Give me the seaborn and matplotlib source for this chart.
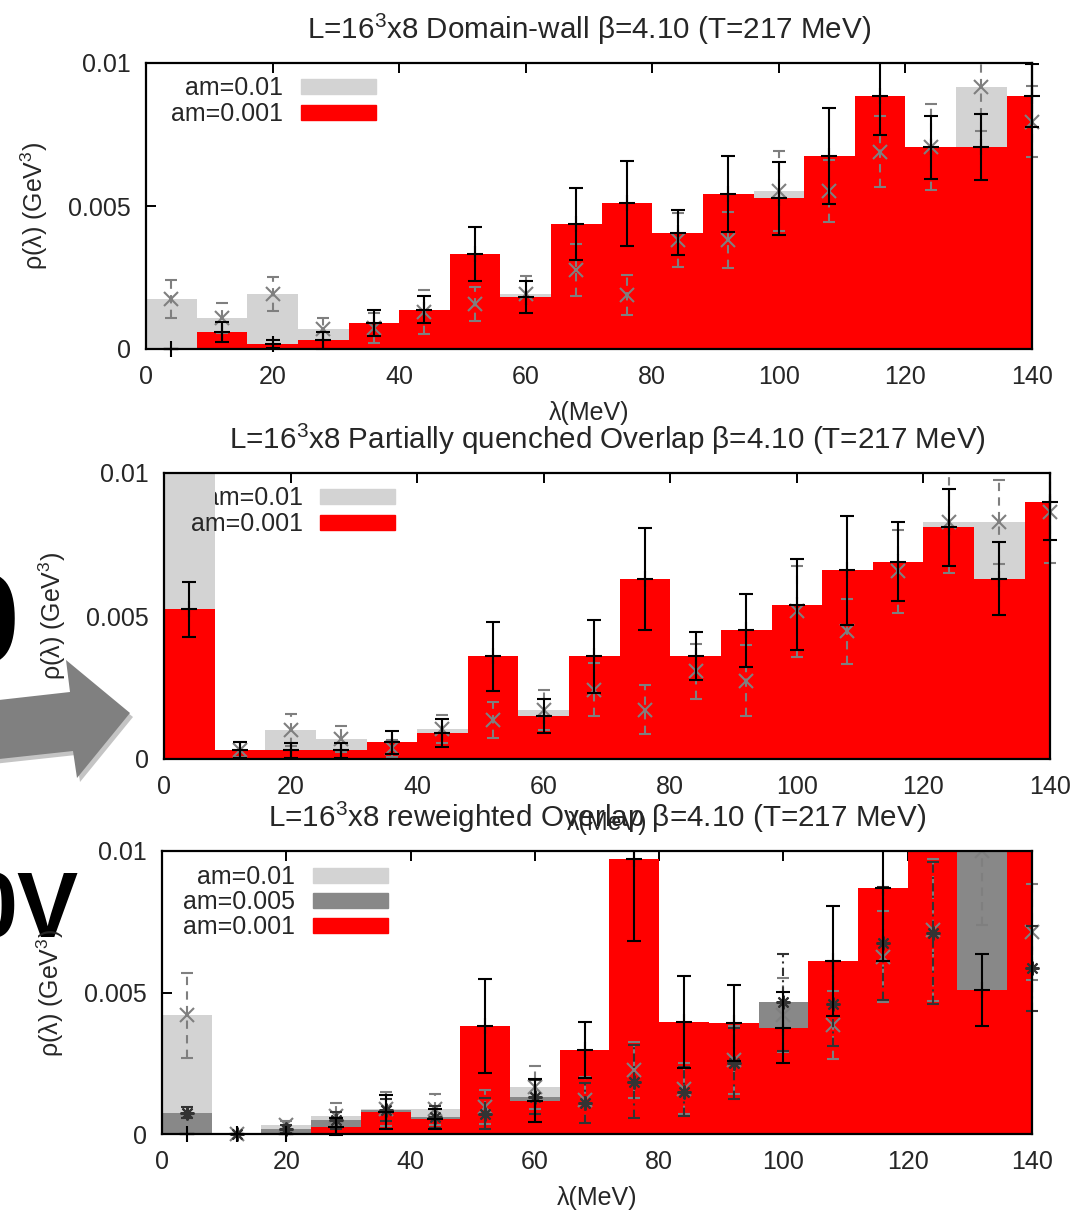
import numpy as np
import pandas as pd
import matplotlib
matplotlib.use("Agg")
import matplotlib.pyplot as plt
import seaborn as sns
from matplotlib.patches import Patch, Polygon
from matplotlib.legend import Legend
from matplotlib.transforms import Bbox, TransformedBbox

# ---------------- data ----------------
bin_centers = np.arange(4, 141, 8)          # MeV
bin_width = 8
bin_range = (0, 144)
x_ticks = [0, 20, 40, 60, 80, 100, 120, 140]
y_ticks = [0, 0.005, 0.01]
y_ticklabels = ["0", "0.005", "0.01"]

titles = [r"L=16$^3$x8 Domain-wall β=4.10 (T=217 MeV)",
          r"L=16$^3$x8 Partially quenched Overlap β=4.10 (T=217 MeV)",
          r"L=16$^3$x8 reweighted Overlap β=4.10 (T=217 MeV)"]
x_label = "λ(MeV)"
y_label = r"ρ(λ) (GeV$^3$)"

# Panel 1 : Domain-wall  (values in 1e-3 GeV^3)
dw_am01 = [1.75, 1.08, 1.92, 0.70, 0.73, 1.30, 1.57, 1.91, 2.76, 1.89, 3.81, 3.81,
           5.52, 5.52, 6.90, 7.06, 9.15, 7.94]
dw_am01_err = [0.67, 0.52, 0.60, 0.40, 0.52, 0.77, 0.60, 0.65, 0.90, 0.69, 0.93, 0.97,
               1.40, 1.08, 1.24, 1.50, 1.53, 1.24]
dw_am0001 = [0.00, 0.60, 0.17, 0.31, 0.91, 1.37, 3.32, 1.82, 4.37, 5.10, 4.07, 5.41,
             5.27, 6.75, 8.85, 7.06, 7.06, 8.85]
dw_am0001_err = [0.00, 0.36, 0.15, 0.30, 0.45, 0.47, 0.95, 0.56, 1.26, 1.49, 0.80, 1.33,
                 1.27, 1.68, 1.36, 1.10, 1.14, 1.10]

# Panel 2 : partially quenched overlap
pq_am01 = [14.0, 0.33, 1.02, 0.70, 0.38, 1.05, 1.37, 1.72, 2.42, 1.72, 3.06, 2.74,
           5.16, 4.46, 6.56, 8.30, 8.30, 8.64]
pq_am01_err = [2.0, 0.25, 0.55, 0.45, 0.30, 0.50, 0.63, 0.70, 0.92, 0.86, 0.95, 1.25,
               1.58, 1.15, 1.46, 1.80, 1.47, 1.80]
pq_am0001 = [5.24, 0.33, 0.30, 0.30, 0.59, 0.91, 3.59, 1.51, 3.59, 6.30, 3.61, 4.50,
             5.40, 6.60, 6.90, 8.10, 6.30, 9.00]
pq_am0001_err = [0.96, 0.28, 0.27, 0.27, 0.40, 0.49, 1.21, 0.60, 1.28, 1.78, 0.84, 1.27,
                 1.60, 1.91, 1.37, 1.35, 1.28, 1.35]

# Panel 3 : reweighted overlap
rw_am01 = [4.20, 0.00, 0.32, 0.64, 0.87, 0.87, 0.97, 1.65, 1.20, 2.26, 1.60, 2.60,
           4.20, 3.85, 6.27, 7.20, 10.0, 7.15]
rw_am01_err = [1.50, 0.00, 0.15, 0.45, 0.60, 0.55, 0.60, 0.75, 0.80, 1.00, 0.90, 1.20,
               1.30, 1.20, 1.60, 2.50, 2.60, 1.70]
rw_am005 = [0.75, 0.00, 0.17, 0.49, 0.85, 0.60, 0.72, 1.30, 1.10, 1.85, 1.50, 2.50,
            4.65, 4.60, 6.74, 7.11, 13.0, 5.86]
rw_am005_err = [0.20, 0.00, 0.15, 0.30, 0.40, 0.40, 0.55, 0.60, 0.70, 1.30, 0.85, 1.25,
                1.70, 1.50, 2.00, 2.50, 2.00, 1.50]
rw_am0001 = [0.00, 0.00, 0.00, 0.26, 0.79, 0.52, 3.82, 1.18, 2.97, 9.72, 3.95, 3.91,
             3.76, 6.11, 8.70, 12.5, 5.09, 12.5]
rw_am0001_err = [0.00, 0.00, 0.00, 0.30, 0.60, 0.35, 1.65, 0.75, 1.00, 2.90, 1.63, 1.34,
                 1.25, 1.95, 2.60, 2.00, 1.27, 2.00]

# ---------------- style ----------------
sns.set_style("ticks")
plt.rcParams['font.family'] = ['Liberation Sans', 'DejaVu Sans']
plt.rcParams['mathtext.default'] = 'regular'

LIGHT = "#d3d3d3"
DARK = "#888888"
RED = "#ff0000"
FS = 18
FS_TITLE = 21.3

W, H = 1084, 1212
fig = plt.figure(figsize=(W / 100, H / 100), dpi=100)


def add_axes_px(l, t, r, b):
    return fig.add_axes([l / W, 1 - b / H, (r - l) / W, (b - t) / H])


def bars(ax, vals, color, z):
    df = pd.DataFrame({"lam": bin_centers.astype(float),
                       "rho": np.array(vals, dtype=float) * 1e-3})
    sns.histplot(data=df, x="lam", weights="rho", binwidth=bin_width,
                 binrange=bin_range, stat="count",
                 color=color, alpha=1, linewidth=0, ax=ax, zorder=z)


def errs(ax, vals, err, marker, color, ls, z, ms=10, capsize=4):
    eb = ax.errorbar(bin_centers, np.array(vals) * 1e-3, yerr=np.array(err) * 1e-3,
                     fmt='', marker=marker, linestyle='none',
                     color=color, ms=ms, mew=1.5, elinewidth=1.5,
                     capsize=capsize, capthick=1.5, zorder=z)
    for bl in eb.lines[2]:
        bl.set_linestyle(ls)
    clip = TransformedBbox(Bbox([[-0.03, -0.06], [1.03, 1.0]]), ax.transAxes)
    arts = [eb.lines[0]] + list(eb.lines[1]) + list(eb.lines[2])
    for a in arts:
        if a is None:
            continue
        a.set_clip_path(None)
        a.set_clip_box(clip)


def key_row(ax, color, label, ax_w, ax_h, right_px, row_px, z):
    leg = Legend(ax, [Patch(color=color)], [label], loc='center right',
                 markerfirst=False, frameon=False,
                 bbox_to_anchor=(right_px / ax_w, 1 - row_px / ax_h),
                 borderpad=0, borderaxespad=0, handlelength=3.0, handleheight=0.55,
                 handletextpad=0.7, fontsize=FS)
    leg.set_zorder(z)
    ax.add_artist(leg)


def finish(ax, title, ax_w, ax_h):
    ax.set_xlim(0, 140)
    ax.set_ylim(0, 0.01)
    ax.set_xticks(x_ticks)
    ax.set_xticklabels([str(t) for t in x_ticks])
    ax.set_yticks(y_ticks)
    ax.set_yticklabels(y_ticklabels)
    ax.tick_params(direction='in', length=7, width=1.4, top=True, right=True,
                   labelsize=FS, color='black')
    ax.tick_params(axis='x', pad=11.5)
    ax.tick_params(axis='y', pad=11)
    for s in ax.spines.values():
        s.set_linewidth(1.6)
        s.set_color('black')
        s.set_zorder(20)
    ax.set_title(title, fontsize=FS_TITLE, pad=17.5)
    ax.set_xlabel(x_label, fontsize=FS)
    ax.set_ylabel(y_label, fontsize=FS)
    ax.xaxis.set_label_coords(0.5, -52 / ax_h)
    ax.yaxis.set_label_coords(-96 / ax_w, 0.5)


# ---- Panel 1
ax1 = add_axes_px(146, 63, 1032, 349)
bars(ax1, dw_am01, LIGHT, 1)
bars(ax1, dw_am0001, RED, 2)
errs(ax1, dw_am01, dw_am01_err, 'x', '#7f7f7f', (0, (4, 3)), 5)
errs(ax1, dw_am0001, dw_am0001_err, '+', 'black', '-', 6, ms=12, capsize=5)
finish(ax1, titles[0], 886, 286)
key_row(ax1, LIGHT, "am=0.01", 886, 286, 230, 25, 0.5)
key_row(ax1, RED, "am=0.001", 886, 286, 230, 51, 1.2)

# ---- Panel 2
ax2 = add_axes_px(164, 473, 1050, 759)
bars(ax2, pq_am01, LIGHT, 1)
bars(ax2, pq_am0001, RED, 2)
errs(ax2, pq_am01, pq_am01_err, 'x', '#7f7f7f', (0, (4, 3)), 5)
errs(ax2, pq_am0001, pq_am0001_err, '+', 'black', '-', 6, ms=12, capsize=5)
finish(ax2, titles[1], 886, 286)
key_row(ax2, LIGHT, "am=0.01", 886, 286, 231, 25, 0.5)
key_row(ax2, RED, "am=0.001", 886, 286, 231, 51, 1.2)

# ---- Panel 3
ax3 = add_axes_px(162, 851, 1032, 1134)
bars(ax3, rw_am01, LIGHT, 1)
bars(ax3, rw_am005, DARK, 1.5)
bars(ax3, rw_am0001, RED, 2)
errs(ax3, rw_am01, rw_am01_err, 'x', '#7f7f7f', (0, (4, 3)), 5)
errs(ax3, rw_am005, rw_am005_err, (8, 2, 0), '#333333', (0, (4, 2, 1, 2)), 5.5)
errs(ax3, rw_am0001, rw_am0001_err, '+', 'black', '-', 6, ms=12, capsize=5)
finish(ax3, titles[2], 870, 283)
key_row(ax3, LIGHT, "am=0.01", 870, 283, 226, 26, 0.5)
key_row(ax3, DARK, "am=0.005", 870, 283, 226, 51, 1.2)
key_row(ax3, RED, "am=0.001", 870, 283, 226, 76, 1.7)

# ---- slide background remnants (arrow and large letters at the left edge)
def px(x, y):
    return (x / W, 1 - y / H)

arrow_px = [(-10, 701), (70, 692), (66, 660), (130, 713), (77, 778), (73, 751), (-10, 760)]
shadow = Polygon([px(x + 3, y + 4) for x, y in arrow_px], closed=True,
                 transform=fig.transFigure, facecolor='#c4c4c4', edgecolor='none',
                 zorder=-2)
arrow = Polygon([px(x, y) for x, y in arrow_px], closed=True,
                transform=fig.transFigure, facecolor='#808080', edgecolor='none',
                zorder=-1)
fig.patches.extend([shadow, arrow])
fig.text(20 / W, 1 - 663 / H, "0", fontsize=92, fontweight='bold', ha='right',
         va='baseline', color='black', zorder=-1)
fig.text(78 / W, 1 - 937 / H, "0V", fontsize=66, fontweight='bold', ha='right',
         va='baseline', color='black', zorder=-1)

fig.savefig("out.png", dpi=100)
